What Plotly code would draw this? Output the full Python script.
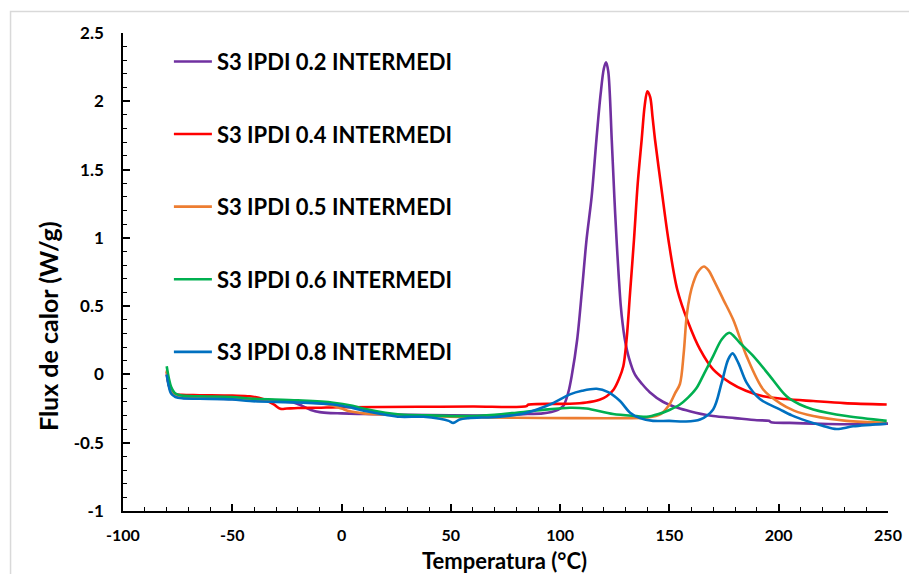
import plotly.graph_objects as go

# ---- data ----
names = ["S3 IPDI 0.2 INTERMEDI", "S3 IPDI 0.4 INTERMEDI", "S3 IPDI 0.5 INTERMEDI",
         "S3 IPDI 0.6 INTERMEDI", "S3 IPDI 0.8 INTERMEDI"]
colors = ["#7030A0", "#FF0000", "#ED7D31", "#00B050", "#0070C0"]

x_02 = [-80, -79, -78, -76, -73, -65, -50, -40, -30, -22, -18, -14, -10, -5, 0, 10, 30, 50, 70, 85,
        92, 96, 99, 101.5, 103.7, 105.3, 107.8, 110, 112.1, 114.4, 116.6, 118.5, 120, 121, 122, 123.6,
        124.8, 125.8, 126.8, 127.7, 128.6, 129.6, 131.5, 134.2, 137.5, 141, 147, 154.8, 162, 170, 180,
        190, 195.5, 196.5, 205, 215.8, 230, 250]
y_02 = [0.0, -0.08, -0.13, -0.16, -0.17, -0.175, -0.18, -0.185, -0.195, -0.205, -0.23, -0.26, -0.276,
        -0.283, -0.285, -0.29, -0.295, -0.3, -0.3, -0.29, -0.285, -0.275, -0.26, -0.23, -0.134, -0.01,
        0.256, 0.62, 0.99, 1.3, 1.72, 2.05, 2.24, 2.286, 2.22, 1.72, 1.3, 0.99, 0.72, 0.51, 0.37, 0.256,
        0.12, 0.0, -0.07, -0.13, -0.2, -0.25, -0.28, -0.305, -0.32, -0.335, -0.34, -0.35, -0.355, -0.36,
        -0.365, -0.36]

x_04 = [-80, -79, -78, -76, -73, -65, -50, -42, -36, -31, -28, -25, -20, -11, 0, 35, 60, 84.7, 85.3,
        104.5, 112, 118, 121.3, 124.5, 127, 128.9, 130.4, 132, 133.8, 135.5, 137.3, 138.7, 139.9, 141.2,
        142.3, 143.4, 146.4, 149.5, 153.6, 158.6, 164, 170, 177.7, 185, 192.9, 203, 215.8, 230, 249.4]
y_04 = [0.02, -0.08, -0.12, -0.145, -0.15, -0.152, -0.155, -0.16, -0.18, -0.22, -0.252, -0.25, -0.246,
        -0.244, -0.24, -0.237, -0.235, -0.232, -0.222, -0.215, -0.205, -0.185, -0.16, -0.11, -0.03, 0.06,
        0.256, 0.6, 0.99, 1.4, 1.72, 1.97, 2.074, 2.03, 1.88, 1.72, 1.354, 0.99, 0.62, 0.38, 0.183, 0.037,
        -0.06, -0.12, -0.16, -0.18, -0.195, -0.21, -0.22]

x_05 = [-80, -79, -78, -76, -73, -65, -50, -40, -20, -8, -3.8, 0, 3.8, 10, 19, 35, 49.6, 80, 104.5, 130,
        140, 146, 150, 152.5, 154.8, 156.5, 157.9, 159.4, 160.9, 163, 165.8, 168, 170, 174.6, 179.2,
        185.3, 192.9, 200.5, 207, 215.8, 231, 249.4]
y_05 = [0.03, -0.06, -0.11, -0.15, -0.165, -0.17, -0.175, -0.18, -0.2, -0.215, -0.23, -0.25, -0.27,
        -0.285, -0.293, -0.303, -0.31, -0.317, -0.32, -0.32, -0.315, -0.29, -0.22, -0.14, -0.07, 0.15,
        0.43, 0.58, 0.67, 0.75, 0.79, 0.76, 0.7, 0.55, 0.4, 0.134, -0.11, -0.21, -0.265, -0.305, -0.34,
        -0.355]

x_06 = [-80, -79, -78, -76, -73, -65, -50, -41.9, -20, -3.8, 5, 11.5, 20, 26.7, 40, 57.2, 70, 80, 92,
        104.5, 112, 124.2, 135, 139.6, 145, 150, 154.8, 158.5, 162.4, 166, 170, 173.9, 177.4, 179.5,
        182.3, 188.4, 196, 203.6, 209.7, 215.8, 231, 249.4]
y_06 = [0.06, -0.03, -0.09, -0.14, -0.155, -0.16, -0.165, -0.176, -0.19, -0.207, -0.23, -0.256, -0.28,
        -0.293, -0.3, -0.305, -0.295, -0.28, -0.26, -0.244, -0.25, -0.29, -0.305, -0.31, -0.29, -0.26,
        -0.22, -0.17, -0.1, 0.01, 0.134, 0.256, 0.305, 0.28, 0.23, 0.134, -0.012, -0.16, -0.22, -0.256,
        -0.305, -0.34]

x_08 = [-80, -79, -78, -76, -73, -65, -50, -41.9, -20, -3.8, 5, 11.5, 20, 26.7, 37.4, 45, 49, 51.1, 54,
        58, 72.5, 84.7, 95.3, 104.5, 110, 116.7, 122, 127.4, 132, 136.5, 142.5, 150, 157, 164, 170,
        173.9, 176.9, 178.9, 181.5, 185.3, 191.4, 200.5, 206, 212.7, 220, 226.5, 234, 249.4]
y_08 = [0.0, -0.09, -0.14, -0.165, -0.175, -0.178, -0.183, -0.195, -0.205, -0.22, -0.245, -0.27, -0.295,
        -0.31, -0.31, -0.325, -0.34, -0.355, -0.33, -0.32, -0.31, -0.28, -0.22, -0.146, -0.12, -0.105,
        -0.13, -0.195, -0.28, -0.32, -0.34, -0.34, -0.345, -0.33, -0.256, -0.06, 0.11, 0.154, 0.085,
        -0.06, -0.18, -0.256, -0.3, -0.34, -0.375, -0.4, -0.38, -0.36]

series_x = [x_02, x_04, x_05, x_06, x_08]
series_y = [y_02, y_04, y_05, y_06, y_08]

x_tickvals = [-100, -50, 0, 50, 100, 150, 200, 250]
x_ticktext = ["-100", "-50", "0", "50", "100", "150", "200", "250"]
y_tickvals = [-1, -0.5, 0, 0.5, 1, 1.5, 2, 2.5]
y_ticktext = ["-1", "-0.5", "0", "0.5", "1", "1.5", "2", "2.5"]

FONT = "Lato"

fig = go.Figure()
for i, (n, c, xs, ys) in enumerate(zip(names, colors, series_x, series_y)):
    fig.add_trace(go.Scatter(
        x=xs, y=ys, mode="lines", name=n, legendgroup=f"g{i}",
        line=dict(color=c, width=2.6, shape="spline", smoothing=0.9),
    ))

fig.update_layout(
    width=909, height=574,
    margin=dict(l=123, r=21, t=33, b=63, autoexpand=False),
    paper_bgcolor="white", plot_bgcolor="white",
    font=dict(family=FONT, color="black", size=17, weight="bold"),
    showlegend=True,
    legend=dict(
        x=0.06, y=0.984, xanchor="left", yanchor="top",
        bgcolor="rgba(0,0,0,0)", borderwidth=0,
        traceorder="grouped", tracegroupgap=41, itemwidth=38,
        font=dict(family=FONT, size=22, color="black", weight="bold"),
    ),
    xaxis=dict(
        range=[-100, 250], tickvals=x_tickvals, ticktext=x_ticktext, automargin=False,
        showgrid=False, zeroline=False, showline=True, linecolor="black", linewidth=1.6,
        ticks="inside", ticklen=7, tickwidth=1.5, tickcolor="black",
        minor=dict(ticks="inside", ticklen=4, dtick=10, tickcolor="black", tickwidth=1.2),
        tickfont=dict(family=FONT, size=16, color="black", weight="bold"),
        ticklabelstandoff=9,
    ),
    yaxis=dict(
        range=[-1, 2.5], tickvals=y_tickvals, ticktext=y_ticktext, automargin=False,
        showgrid=False, zeroline=False, showline=True, linecolor="black", linewidth=1.6,
        ticks="inside", ticklen=7, tickwidth=1.5, tickcolor="black",
        minor=dict(ticks="inside", ticklen=4, dtick=0.1, tickcolor="black", tickwidth=1.2),
        tickfont=dict(family=FONT, size=17, color="black", weight="bold"),
        ticklabelstandoff=14,
    ),
    annotations=[
        dict(text="Temperatura (°C)", xref="paper", yref="paper", x=0.499, y=-0.103,
             xanchor="center", yanchor="middle", showarrow=False,
             font=dict(family=FONT, size=22, color="black", weight="bold")),
        dict(text="Flux de calor (W/g)", xref="paper", yref="paper", x=-0.098, y=0.387,
             xanchor="center", yanchor="middle", textangle=-90, showarrow=False,
             font=dict(family=FONT, size=25, color="black", weight="bold")),
    ],
    shapes=[
        dict(type="rect", xref="paper", yref="paper", x0=-0.147, y0=-0.4, x1=1.2, y1=1.045,
             line=dict(color="#D9D9D9", width=1.5), fillcolor="rgba(0,0,0,0)", layer="below"),
    ],
)

fig.write_html("out.html")
